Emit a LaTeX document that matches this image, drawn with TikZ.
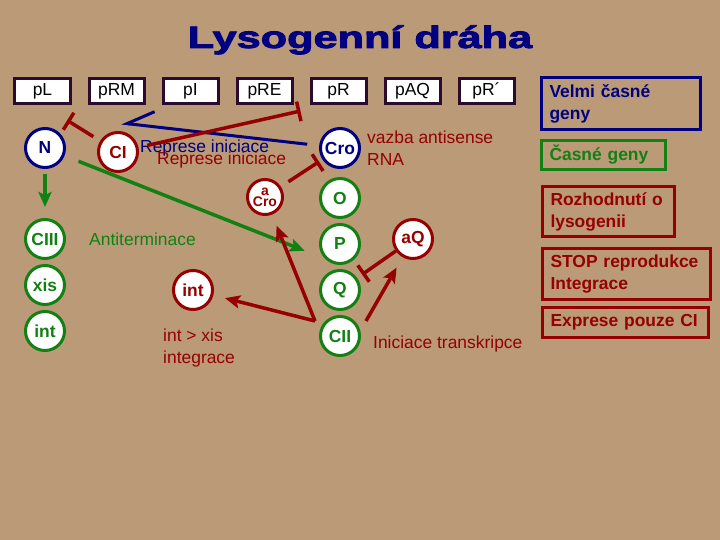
\documentclass[tikz,border=0pt]{standalone}
\usepackage{fontspec}
\usepackage{graphicx}
\setmainfont{Liberation Sans}
\newfontfamily\titlefont[FakeBold=2.5]{Liberation Sans Bold}
\usetikzlibrary{arrows.meta, positioning, calc}
\definecolor{Tan}     {HTML}{BA9A77}
\definecolor{Navy}    {HTML}{000080}
\definecolor{DarkRed} {HTML}{960000}
\definecolor{Leaf}    {HTML}{138013}
\definecolor{BoxLine} {HTML}{2B0A2B}
\newcommand{\txt}{\fontsize{17.5}{22}\selectfont}

\begin{document}
\begin{tikzpicture}[
		x=1bp, y=-1bp,
		prom/.style={draw=BoxLine, fill=white, line width=3bp,
			minimum width=55bp, minimum height=25bp, inner sep=0pt, font=\txt},
		gene/.style={circle, fill=white, line width=3bp,
			minimum size=39bp, inner sep=0pt, font=\txt\bfseries},
		vegene/.style={gene, draw=Navy, text=Navy},
		egene/.style={gene, draw=Leaf, text=Leaf},
		lgene/.style={gene, draw=DarkRed, text=DarkRed},
		legend/.style={draw, line width=3bp, inner xsep=8bp, inner ysep=0pt,
			align=left, font=\txt\bfseries},
		note/.style={font=\txt, align=left, inner sep=0pt},
		act/.style={-{Stealth[length=15bp, width=13bp, inset=3bp]}, line width=3.5bp},
		blk/.style={-{Bar[width=20bp]}, line width=3.5bp},
		rep/.style={-{Straight Barb[right, length=26bp, width=30bp]}, line width=3bp},
		]
		\fill[Tan] (0,0) rectangle (720,540);
		\useasboundingbox (0,0) rectangle (720,540);
		\node[font=\titlefont\fontsize{31}{36}\selectfont, text=Navy, anchor=base]
		(title) at (360,48) {\scalebox{1.4}[1]{Lysogenní dráha}};
		% ── Promoters ────────────────────────────────────────────────────────────────
		\node[prom]                   (pL)  at (42.5,91) {pL};
		\node[prom, right=16bp of pL]  (pRM) {pRM};
		\node[prom, right=16bp of pRM] (pI)  {pI};
		\node[prom, right=16bp of pI]  (pRE) {pRE};
		\node[prom, right=16bp of pRE] (pR)  {pR};
		\node[prom, right=16bp of pR]  (pAQ) {pAQ};
		\node[prom, right=16bp of pAQ] (pRc) {pR´};
		% ── Genes ────────────────────────────────────────────────────────────────────
		\node[vegene]                  (N)    at (45,148)  {N};
		\node[egene]                   (CIII) at (45,239)  {CIII};
		\node[egene, below=4bp of CIII] (xis)  {xis};
		\node[egene, below=4bp of xis]  (intg) {int};
		\node[lgene]                   (CI)   at (118,152) {CI};
		\node[lgene]                   (intr) at (193,290) {int};
		\node[lgene, minimum size=35bp, align=center, font=\fontsize{14}{16}\selectfont\bfseries]
		(aCro) at (265,197) {a\\[-5bp]Cro};
		\node[vegene]                  (Cro)  at (340,148) {Cro};
		\node[egene, below=8bp of Cro]  (O)    {O};
		\node[egene, below=4bp of O]    (P)    {P};
		\node[egene, below=4bp of P]    (Q)    {Q};
		\node[egene, below=4bp of Q]    (CII)  {CII};
		\node[lgene]                   (aQ)   at (413,239) {aQ};
		% ── Notes ────────────────────────────────────────────────────────────────────
		\node[note, text=Navy, anchor=base west]    (repb)  at (140,153) {Represe iniciace};
		\node[note, text=DarkRed, anchor=base west] (repr)  at (157,165) {Represe iniciace};
		\node[note, text=DarkRed, anchor=west]      (anti)  at (367,148) {vazba antisense\\RNA};
		\node[note, text=Leaf, anchor=base west]    (antit) at (89,246)  {Antiterminace};
		\node[note, text=DarkRed, anchor=west]      (ixis)  at (163,348) {int > xis\\integrace};
		\node[note, text=DarkRed, anchor=base west] (itr)   at (373,348) {Iniciace transkripce};
		% ── Legend ───────────────────────────────────────────────────────────────────
		\node[legend, draw=Navy, text=Navy, text width=143bp, minimum height=52bp, anchor=north west]
		(vcg) at (540,76) {Velmi časné\\geny};
		\node[legend, draw=Leaf, text=Leaf, text width=108bp, minimum height=29bp,
		below right=8bp and 0bp of vcg.south west] (cg) {Časné geny};
		\node[legend, draw=DarkRed, text=DarkRed, text width=116bp, minimum height=50bp,
		below right=14bp and 1bp of cg.south west] (rozh) {Rozhodnutí o\\lysogenii};
		\node[legend, draw=DarkRed, text=DarkRed, text width=152bp, minimum height=51bp,
		below right=9bp and 0bp of rozh.south west] (stop) {STOP reprodukce\\Integrace};
		\node[legend, draw=DarkRed, text=DarkRed, text width=150bp, minimum height=30bp,
		below right=5bp and 0bp of stop.south west] (expr) {Exprese pouze CI};
		% ── Repression ───────────────────────────────────────────────────────────────
		\draw[rep, Navy, shorten <=12bp] (Cro) -- ([xshift=5bp, yshift=-18bp]pRM.south);
		\draw[blk, DarkRed, shorten <=8bp, shorten >=29bp] (CI) -- (pL.south);
		\draw[blk, DarkRed, shorten <=9bp] (CI) -- ([xshift=7bp, yshift=-6bp]pRE.south east);
		\draw[blk, DarkRed, shorten <=9bp, shorten >=4bp] (aCro) -- (Cro);
		\draw[blk, DarkRed, shorten >=6bp] (aQ) -- (Q);
		% ── Activation ───────────────────────────────────────────────────────────────
		\draw[act, Leaf, shorten <=5bp, shorten >=11bp] (N) -- (CIII);
		\draw[act, Leaf, shorten <=15bp, shorten >=22bp] (N) -- (P.south west);
		\coordinate (cIIw) at ($(CII)+(-25,-15)$);
		\coordinate (cIIe) at ($(CII)+(26,-15)$);
		\foreach \x/\y in {cIIw/aCro, cIIw/intr, cIIe/aQ}
		\draw[act, DarkRed, shorten >=12bp] (\x) -- (\y);
	\end{tikzpicture}
\end{document}
